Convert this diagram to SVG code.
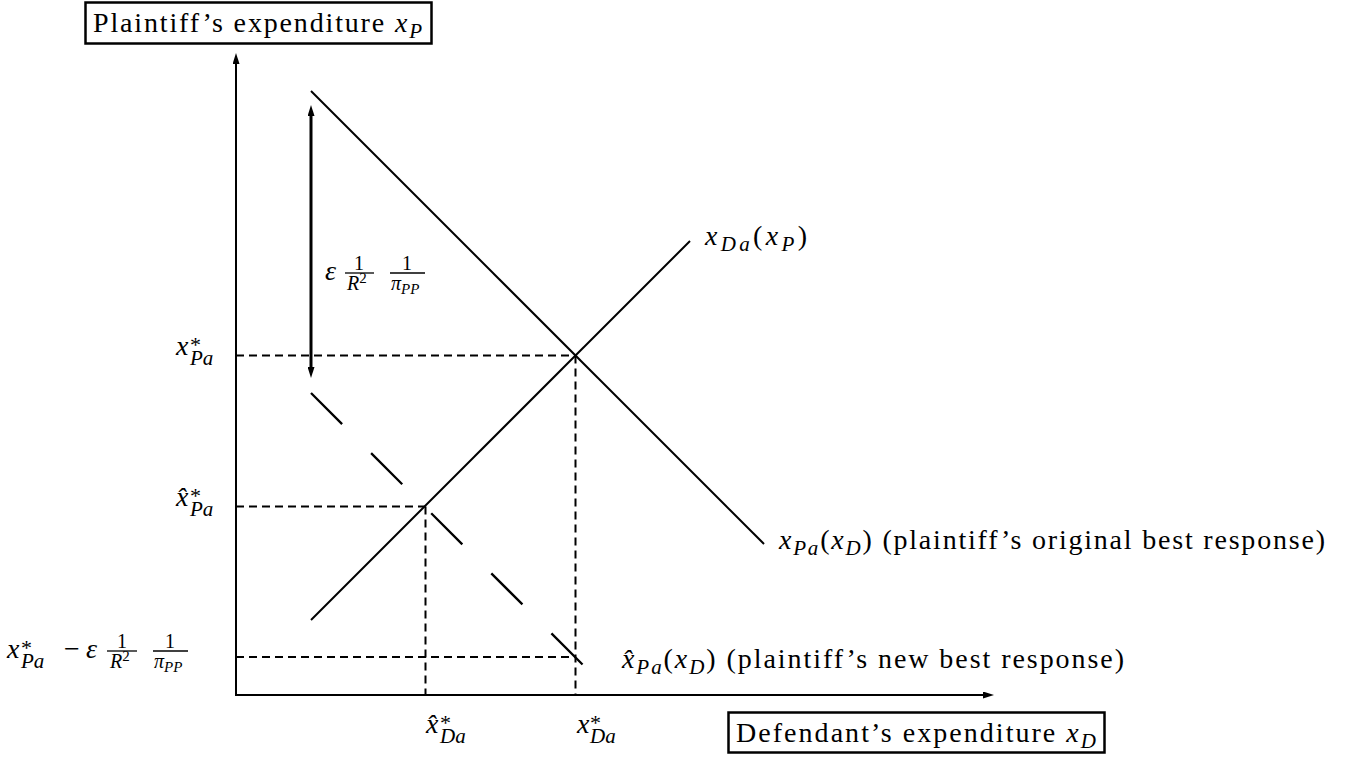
<svg xmlns="http://www.w3.org/2000/svg" width="1355" height="757" viewBox="0 0 1355 757" font-family="Liberation Serif, Tinos, Times New Roman, DejaVu Serif, serif">
<style>
text{fill:#000}
.t{font-size:28px}
.i{font-style:italic}
.sub{font-size:21px;font-style:italic}
.ast{font-size:22px;font-style:normal}
.fr{font-size:20px}
.sup{font-size:15px;font-style:normal}
.ss{font-size:15px;font-style:italic}
.ln{stroke:#000;stroke-width:2;fill:none}
.ax{stroke:#000;stroke-width:2;fill:none}
.dash{stroke:#000;stroke-width:2;stroke-dasharray:8 5;fill:none}
.ldash{stroke:#000;stroke-width:2.3;stroke-dasharray:44 41;fill:none}
.thick{stroke:#000;stroke-width:3;fill:none}
.bar{stroke:#000;stroke-width:1.3}
.box{fill:#fff;stroke:#000;stroke-width:2.5}
</style>
<defs>
<marker id="ah" viewBox="0 0 11 7" refX="0" refY="3.5" markerWidth="11" markerHeight="7" markerUnits="userSpaceOnUse" orient="auto-start-reverse"><path d="M0,0 L11,3.5 L0,7 z" fill="#000"/></marker>
</defs>
<rect width="1355" height="757" fill="#fff"/>

<g id="connectors">
<line class="ax" x1="236" y1="696" x2="236" y2="64" marker-end="url(#ah)"/>
<line class="ax" x1="235" y1="695" x2="983" y2="695" marker-end="url(#ah)"/>
<line class="ln" x1="311" y1="91" x2="764" y2="544"/>
<line class="ln" x1="311" y1="620" x2="690" y2="241"/>
<line class="ldash" x1="311" y1="393" x2="583" y2="665"/>
<line class="dash" x1="236" y1="355.5" x2="575.5" y2="355.5"/>
<line class="dash" x1="236" y1="506.5" x2="425.5" y2="506.5"/>
<line class="dash" x1="236" y1="657" x2="575.5" y2="657"/>
<line class="dash" x1="425.5" y1="506.5" x2="425.5" y2="695"/>
<line class="dash" x1="575.5" y1="355.5" x2="575.5" y2="695"/>
<line class="thick" x1="311" y1="116" x2="311" y2="367" marker-start="url(#ah)" marker-end="url(#ah)"/>
</g>

<g id="yaxis-label">
<rect class="box" x="85.5" y="2.5" width="346" height="41"/>
<text class="t" x="93" y="32" textLength="329" lengthAdjust="spacing">Plaintiff’s expenditure <tspan class="i">x</tspan><tspan class="sub" dy="6">P</tspan></text>
</g>

<g id="xaxis-label">
<rect class="box" x="728.5" y="712.5" width="376" height="40"/>
<text class="t" x="736" y="742" textLength="360" lengthAdjust="spacing">Defendant’s expenditure <tspan class="i">x</tspan><tspan class="sub" dy="6">D</tspan></text>
</g>

<g id="tick-xPa-star">
<text class="t i" x="176" y="355">x<tspan class="ast" x="190" dy="-3">*</tspan><tspan class="sub" x="190" dy="13">Pa</tspan></text>
</g>

<g id="tick-xPa-hat">
<text class="t i" x="176" y="506">x̂<tspan class="ast" x="190" dy="-3">*</tspan><tspan class="sub" x="190" dy="13">Pa</tspan></text>
</g>

<g id="tick-xPa-minus">
<text class="t i" x="7" y="658">x<tspan class="ast" x="21" dy="-3">*</tspan><tspan class="sub" x="21" dy="13">Pa</tspan><tspan style="font-style:normal" x="64" dy="-10">−</tspan><tspan x="86">ε</tspan></text>
<line class="bar" x1="107" y1="651" x2="137" y2="651"/>
<text class="fr" x="122" y="648" text-anchor="middle">1</text>
<text class="fr i" x="110" y="668">R<tspan class="sup" dy="-7">2</tspan></text>
<line class="bar" x1="153" y1="651" x2="188" y2="651"/>
<text class="fr" x="170" y="648" text-anchor="middle">1</text>
<text class="fr i" x="154" y="668">π<tspan class="ss" dy="4">PP</tspan></text>
</g>

<g id="arrow-label">
<text class="t i" x="325" y="280">ε</text>
<line class="bar" x1="345" y1="273" x2="374" y2="273"/>
<text class="fr" x="359" y="270" text-anchor="middle">1</text>
<text class="fr i" x="347" y="290">R<tspan class="sup" dy="-7">2</tspan></text>
<line class="bar" x1="390" y1="273" x2="425" y2="273"/>
<text class="fr" x="407" y="270" text-anchor="middle">1</text>
<text class="fr i" x="391" y="290">π<tspan class="ss" dy="4">PP</tspan></text>
</g>

<g id="tick-xDa-hat">
<text class="t i" x="426" y="733">x̂<tspan class="ast" x="440" dy="-3">*</tspan><tspan class="sub" x="440" dy="13">Da</tspan></text>
</g>

<g id="tick-xDa-star">
<text class="t i" x="577" y="733">x<tspan class="ast" x="590" dy="-3">*</tspan><tspan class="sub" x="590" dy="13">Da</tspan></text>
</g>

<g id="label-xDa">
<text class="t" x="705" y="245" textLength="102" lengthAdjust="spacing"><tspan class="i">x</tspan><tspan class="sub" dy="6">Da</tspan><tspan dy="-6">(</tspan><tspan class="i">x</tspan><tspan class="sub" dy="6">P</tspan><tspan dy="-6">)</tspan></text>
</g>

<g id="label-xPa-original">
<text class="t" x="779" y="549" textLength="546" lengthAdjust="spacing"><tspan class="i">x</tspan><tspan class="sub" dy="6">Pa</tspan><tspan dy="-6">(</tspan><tspan class="i">x</tspan><tspan class="sub" dy="6">D</tspan><tspan dy="-6">) (plaintiff’s original best response)</tspan></text>
</g>

<g id="label-xPa-new">
<text class="t" x="622" y="668" textLength="502" lengthAdjust="spacing"><tspan class="i">x̂</tspan><tspan class="sub" dy="6">Pa</tspan><tspan dy="-6">(</tspan><tspan class="i">x</tspan><tspan class="sub" dy="6">D</tspan><tspan dy="-6">) (plaintiff’s new best response)</tspan></text>
</g>
</svg>
